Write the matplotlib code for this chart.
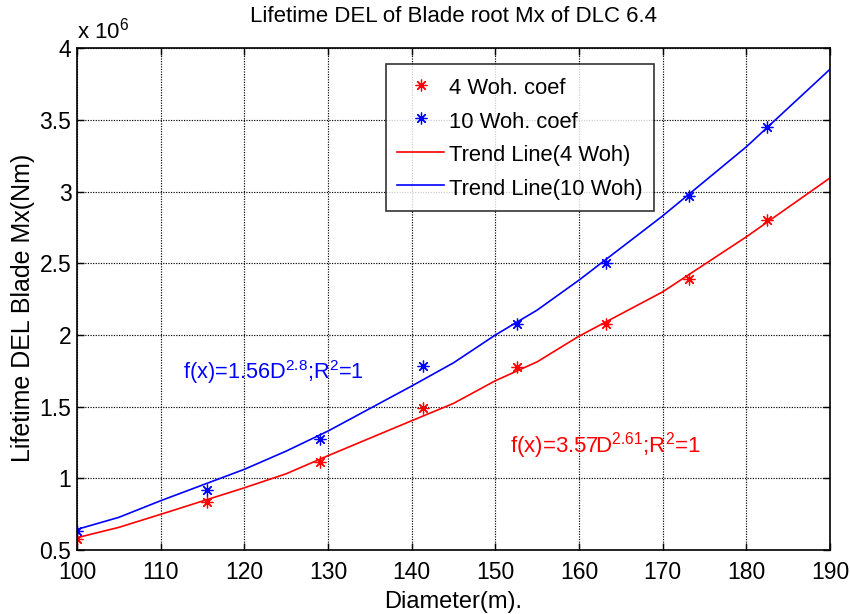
import matplotlib
matplotlib.use("Agg")
import matplotlib.pyplot as plt
from matplotlib.ticker import MultipleLocator, FuncFormatter

plt.rcParams['font.family'] = ['Liberation Sans', 'DejaVu Sans']
plt.rcParams['mathtext.fontset'] = 'custom'
plt.rcParams['mathtext.rm'] = 'Liberation Sans'
plt.rcParams['mathtext.it'] = 'Liberation Sans'

# Rotor diameters (m) and lifetime DEL of blade root Mx (x 1e6 Nm)
diameter = [100.0, 115.5, 129.0, 141.3, 152.6, 163.2, 173.2, 182.5]
del_4woh = [0.577, 0.837, 1.112, 1.493, 1.779, 2.077, 2.391, 2.803]
del_10woh = [0.635, 0.919, 1.272, 1.786, 2.077, 2.500, 2.970, 3.450]

# Trend lines sampled along the diameter axis
trend_d = [100, 105, 110, 120, 125, 130, 140, 145, 150, 155, 160, 170, 180, 190]
trend_4woh = [0.586, 0.658, 0.749, 0.934, 1.032, 1.158, 1.402, 1.523, 1.681,
              1.813, 1.992, 2.301, 2.685, 3.096]
trend_10woh = [0.644, 0.728, 0.844, 1.063, 1.190, 1.330, 1.644, 1.806, 2.000,
               2.174, 2.383, 2.831, 3.313, 3.854]

scale = 1e6

fig = plt.figure(figsize=(8.5, 6.14), dpi=100)
ax = fig.add_axes([0.0906, 0.1042, 0.8859, 0.8171])

ast = (8, 2, 0)
ax.plot(diameter, [v * scale for v in del_4woh], linestyle='none', marker=ast,
        markersize=8.5, markeredgewidth=0.9, color='red', label='4 Woh. coef')
ax.plot(diameter, [v * scale for v in del_10woh], linestyle='none', marker=ast,
        markersize=8.5, markeredgewidth=0.9, color='blue', label='10 Woh. coef')
ax.plot(trend_d, [v * scale for v in trend_4woh], color='red', lw=1.2,
        label='Trend Line(4 Woh)')
ax.plot(trend_d, [v * scale for v in trend_10woh], color='blue', lw=1.2,
        label='Trend Line(10 Woh)')

ax.set_xlim(100, 190)
ax.set_ylim(0.5e6, 4e6)
ax.xaxis.set_major_locator(MultipleLocator(10))
ax.yaxis.set_major_locator(MultipleLocator(0.5e6))
ax.yaxis.set_major_formatter(FuncFormatter(lambda v, p: f"{v / scale:g}"))
ax.tick_params(direction='in', top=True, right=True, labelsize=16.5, length=5,
               width=1.0)
ax.tick_params(axis='x', pad=8)
ax.tick_params(axis='y', pad=4)
ax.grid(True, color='black', linestyle=(0, (1, 1.2)), linewidth=0.85)
for s in ax.spines.values():
    s.set_linewidth(1.2)

ax.text(0.0, 1.01, r'x 10$^{6}$', transform=ax.transAxes, fontsize=16,
        ha='left', va='bottom')

ax.set_title('Lifetime DEL of Blade root Mx of DLC 6.4', fontsize=16, pad=19)
ax.set_xlabel('Diameter(m).', fontsize=17, labelpad=5)
ax.set_ylabel('Lifetime DEL Blade Mx(Nm)', fontsize=18)
ax.yaxis.set_label_coords(-0.0555, 0.483)

ax.text(112.7, 1.74e6, r'f(x)=1.56D$^{2.8}$;R$^{2}$=1', color='blue',
        fontsize=15.7, ha='left', va='center')
ax.text(151.7, 1.23e6, r'f(x)=3.57D$^{2.61}$;R$^{2}$=1', color='red',
        fontsize=16, ha='left', va='center')

leg = ax.legend(loc='upper left', bbox_to_anchor=(0.411, 0.969), fontsize=15.8,
                frameon=True, fancybox=False, edgecolor='black',
                handlelength=2.1, handleheight=1.3, borderpad=0.5,
                labelspacing=0.42, handletextpad=0.25, borderaxespad=0)
leg.get_frame().set_linewidth(1.2)

fig.savefig('out.png', dpi=100)
